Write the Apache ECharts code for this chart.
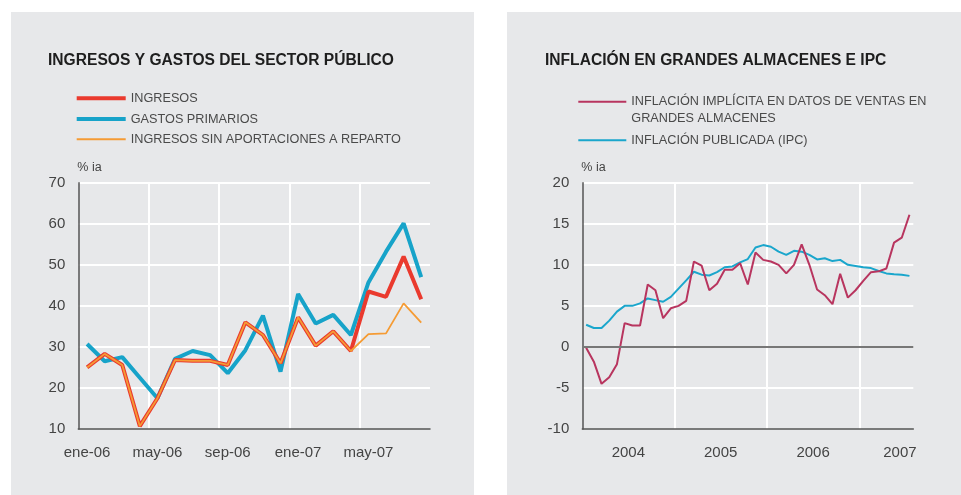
<!DOCTYPE html>
<html>
<head>
<meta charset="utf-8">
<script src="https://cdn.jsdelivr.net/npm/echarts@6/dist/echarts.min.js"></script>
<style>
  html, body { margin: 0; padding: 0; background: #fff; }
  #chart { width: 961px; height: 495px; }
</style>
</head>
<body>
<div id="chart"></div>
<script>
// panel izquierdo: ingresos y gastos (% ia)
var mesesIzq = ['ene-06', 'feb-06', 'mar-06', 'abr-06', 'may-06', 'jun-06', 'jul-06', 'ago-06', 'sep-06', 'oct-06',
  'nov-06', 'dic-06', 'ene-07', 'feb-07', 'mar-07', 'abr-07', 'may-07', 'jun-07', 'jul-07', 'ago-07'];
var ingresos = [25, 28.3, 25.6, 10.7, 17.5, 26.8, 26.6, 26.6, 25.6, 36, 32.9, 26, 37.2, 30.3, 33.8, 29, 43.5, 42.2, 52, 41.6];
var gastosPrimarios = [30.7, 26.5, 27.5, 22.5, 17.5, 27.1, 29, 28, 23.6, 29.2, 37.6, 24, 42.9, 35.7, 37.8, 32.9, 45.7, 53.2, 60.1, 47];
var ingresosSinAport = [25, 28.3, 25.6, 10.7, 17.5, 26.8, 26.6, 26.6, 25.6, 36, 32.9, 26, 37.2, 30.3, 33.8, 29, 33.1, 33.3, 40.6, 35.9];

// panel derecho: inflacion (% ia), mensual ene-04 .. jul-07
var mesesDer = ['ene-04', 'feb-04', 'mar-04', 'abr-04', 'may-04', 'jun-04', 'jul-04', 'ago-04', 'sep-04', 'oct-04', 'nov-04', 'dic-04',
  'ene-05', 'feb-05', 'mar-05', 'abr-05', 'may-05', 'jun-05', 'jul-05', 'ago-05', 'sep-05', 'oct-05', 'nov-05', 'dic-05',
  'ene-06', 'feb-06', 'mar-06', 'abr-06', 'may-06', 'jun-06', 'jul-06', 'ago-06', 'sep-06', 'oct-06', 'nov-06', 'dic-06',
  'ene-07', 'feb-07', 'mar-07', 'abr-07', 'may-07', 'jun-07', 'jul-07'];
var inflImplicita = [-0.1, -1.8, -4.5, -3.7, -2.1, 2.9, 2.6, 2.6, 7.6, 6.9, 3.5, 4.7, 5.0, 5.6,
  10.4, 9.9, 6.9, 7.7, 9.4, 9.4, 10.2, 7.6, 11.5, 10.6, 10.4, 10.0, 8.95, 10.0, 12.5,
  10.0, 7.0, 6.3, 5.2, 8.9, 6.0, 6.9, 8.05, 9.1, 9.2, 9.55, 12.7, 13.3, 16.1];
var inflIpc = [2.7, 2.3, 2.3, 3.2, 4.3, 5.0, 5.0, 5.3, 5.9, 5.7, 5.5, 6.1, 7.1, 8.1,
  9.15, 8.8, 8.7, 9.1, 9.7, 9.8, 10.3, 10.7, 12.1, 12.4, 12.2, 11.6, 11.2, 11.7, 11.6,
  11.2, 10.65, 10.8, 10.45, 10.6, 10.0, 9.85, 9.7, 9.6, 9.25, 8.95, 8.85, 8.8, 8.65];
var etiquetasAnios = {6: '2004', 18: '2005', 30: '2006', 42: '2007'};

var FONT = '"Liberation Sans", Arial, sans-serif';
var PANEL = '#e7e8ea';
var NOMBRE_IMPL = 'INFLACIÓN IMPLÍCITA EN DATOS DE VENTAS EN GRANDES ALMACENES';
var NOMBRE_IPC = 'INFLACIÓN PUBLICADA (IPC)';

var chart = echarts.init(document.getElementById('chart'), null, {renderer: 'canvas'});

function ejeY(min, max, interval) {
  return {
    type: 'value', min: min, max: max, interval: interval,
    name: '% ia', nameLocation: 'end', nameGap: 9,
    nameTextStyle: {align: 'left', fontFamily: FONT, fontSize: 12.5, color: '#444', padding: [0, 0, 0, -1]},
    axisLine: {show: true, lineStyle: {color: '#555', width: 1.5}},
    axisTick: {show: false},
    axisLabel: {margin: 13, fontFamily: FONT, fontSize: 15, color: '#444'},
    splitLine: {show: true, showMinLine: false, lineStyle: {color: '#fff', width: 2}}
  };
}

function legendaLinea(datos, left, top, alto, gap) {
  return {
    data: datos, left: left, top: top, orient: 'vertical', padding: 0,
    icon: 'rect', itemWidth: 49, itemHeight: alto, itemGap: gap, textGap: 9,
    selectedMode: false,
    textStyle: {fontFamily: FONT, fontSize: 12.7, lineHeight: 14, color: '#4a4a4a'}
  };
}

var option = {
  animation: false,
  textStyle: {fontFamily: FONT},
  graphic: [
    {type: 'rect', shape: {x: 11, y: 12, width: 463, height: 483}, style: {fill: PANEL}, z: -10, silent: true},
    {type: 'rect', shape: {x: 507, y: 12, width: 454, height: 483}, style: {fill: PANEL}, z: -10, silent: true}
  ],
  title: [
    {text: 'INGRESOS Y GASTOS DEL SECTOR PÚBLICO', left: 48, top: 53, padding: 0,
      textStyle: {fontFamily: FONT, fontSize: 15.6, fontWeight: 'bold', color: '#1e1e1e'}},
    {text: 'INFLACIÓN EN GRANDES ALMACENES E IPC', left: 545, top: 53, padding: 0,
      textStyle: {fontFamily: FONT, fontSize: 15.6, fontWeight: 'bold', color: '#1e1e1e'}}
  ],
  legend: [
    legendaLinea(['INGRESOS', 'GASTOS PRIMARIOS'], 76.7, 91.3, 4, 6.7),
    legendaLinea(['INGRESOS SIN APORTACIONES A REPARTO'], 76.7, 132.3, 2, 0),
    {
      // linea en blanco arriba para que el icono quede a la altura de la primera linea
      data: [NOMBRE_IMPL], left: 578.3, top: 76.8, orient: 'vertical', padding: 0,
      icon: 'rect', itemWidth: 48, itemHeight: 2, textGap: 11, selectedMode: false,
      formatter: function() { return ' \nINFLACIÓN IMPLÍCITA EN DATOS DE VENTAS EN\nGRANDES ALMACENES'; },
      textStyle: {fontFamily: FONT, fontSize: 12.7, lineHeight: 16.7, color: '#4a4a4a'}
    },
    {
      data: [NOMBRE_IPC], left: 578.3, top: 132, orient: 'vertical', padding: 0,
      icon: 'rect', itemWidth: 48, itemHeight: 2, textGap: 11, selectedMode: false,
      textStyle: {fontFamily: FONT, fontSize: 12.7, lineHeight: 16.7, color: '#4a4a4a'}
    }
  ],
  grid: [
    {left: 78.3, top: 182.7, width: 351.7, height: 246.3},
    {left: 582.3, top: 182.7, width: 331, height: 246.3}
  ],
  xAxis: [
    {
      type: 'category', gridIndex: 0, data: mesesIzq, boundaryGap: true,
      axisLine: {show: true, lineStyle: {color: '#555', width: 1.5}},
      axisTick: {show: false},
      axisLabel: {interval: 3, margin: 16, fontFamily: FONT, fontSize: 15, color: '#444'},
      splitLine: {show: true, interval: 3, showMinLine: false, showMaxLine: false, lineStyle: {color: '#fff', width: 2}}
    },
    {
      type: 'category', gridIndex: 1, data: mesesDer, boundaryGap: true,
      axisLine: {show: true, onZero: false, lineStyle: {color: '#555', width: 1.5}},
      axisTick: {show: false},
      axisLabel: {
        interval: function(i) { return etiquetasAnios[i] !== undefined; },
        formatter: function(v, i) { return i === 42 ? '{r|' + etiquetasAnios[i] + '}' : etiquetasAnios[i]; },
        padding: [0, 8, 0, 0], margin: 16, fontFamily: FONT, fontSize: 15, color: '#444',
        rich: {r: {fontFamily: FONT, fontSize: 15, color: '#444', padding: [0, 11, 0, 0]}}
      },
      splitLine: {show: true, interval: 11, showMinLine: false, showMaxLine: false, lineStyle: {color: '#fff', width: 2}}
    }
  ],
  yAxis: [
    Object.assign(ejeY(10, 70, 10), {gridIndex: 0}),
    Object.assign(ejeY(-10, 20, 5), {gridIndex: 1})
  ],
  series: [
    {name: 'GASTOS PRIMARIOS', type: 'line', xAxisIndex: 0, yAxisIndex: 0, data: gastosPrimarios,
      symbol: 'none', color: '#17a3c9', lineStyle: {color: '#17a3c9', width: 4}},
    {name: 'INGRESOS', type: 'line', xAxisIndex: 0, yAxisIndex: 0, data: ingresos,
      symbol: 'none', color: '#ea3a2e', lineStyle: {color: '#ea3a2e', width: 4}},
    {name: 'INGRESOS SIN APORTACIONES A REPARTO', type: 'line', xAxisIndex: 0, yAxisIndex: 0, data: ingresosSinAport,
      symbol: 'none', color: '#f59b34', lineStyle: {color: '#f59b34', width: 1.8}},
    {name: NOMBRE_IPC, type: 'line', xAxisIndex: 1, yAxisIndex: 1, data: inflIpc,
      symbol: 'none', color: '#1aa6cc', lineStyle: {color: '#1aa6cc', width: 2},
      markLine: {silent: true, symbol: ['none', 'none'], label: {show: false},
        lineStyle: {color: '#777', width: 2, type: 'solid'}, data: [{yAxis: 0}]}},
    {name: NOMBRE_IMPL, type: 'line', xAxisIndex: 1, yAxisIndex: 1, data: inflImplicita,
      symbol: 'none', color: '#b8355f', lineStyle: {color: '#b8355f', width: 2}}
  ]
};

chart.setOption(option);
</script>
</body>
</html>
